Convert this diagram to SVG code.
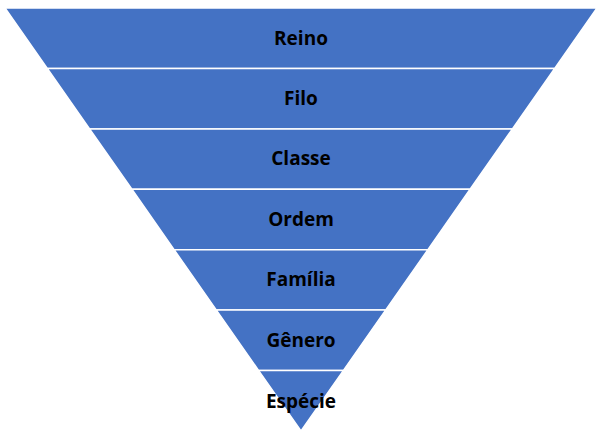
<svg xmlns="http://www.w3.org/2000/svg" width="600" height="435" viewBox="0 0 600 435">
<style>
.b{fill:#4472C4;stroke:#FFFFFF;stroke-width:1.5;stroke-linejoin:miter}
.t{font-family:"Open Sans","Liberation Sans",sans-serif;font-weight:bold;font-size:19px;fill:#000;text-anchor:middle;dominant-baseline:central}
</style>
<rect width="600" height="435" fill="#fff"/>
<g id="reino"><polygon class="b" points="5,8 597,8 554.7,68.4 47.3,68.4"/><text class="t" x="301" y="38">Reino</text></g>
<g id="filo"><polygon class="b" points="47.3,68.4 554.7,68.4 512.4,128.9 89.6,128.9"/><text class="t" x="301" y="98">Filo</text></g>
<g id="classe"><polygon class="b" points="89.6,128.9 512.4,128.9 470.1,189.3 131.9,189.3"/><text class="t" x="301" y="158">Classe</text></g>
<g id="ordem"><polygon class="b" points="131.9,189.3 470.1,189.3 427.9,249.7 174.1,249.7"/><text class="t" x="301" y="219">Ordem</text></g>
<g id="familia"><polygon class="b" points="174.1,249.7 427.9,249.7 385.6,310.1 216.4,310.1"/><text class="t" x="301" y="279">Família</text></g>
<g id="genero"><polygon class="b" points="216.4,310.1 385.6,310.1 343.3,370.6 258.7,370.6"/><text class="t" x="301" y="340">Gênero</text></g>
<g id="especie"><polygon class="b" points="258.7,370.6 343.3,370.6 301,431"/><text class="t" x="301" y="401">Espécie</text></g>
<g id="connectors"/>
</svg>
